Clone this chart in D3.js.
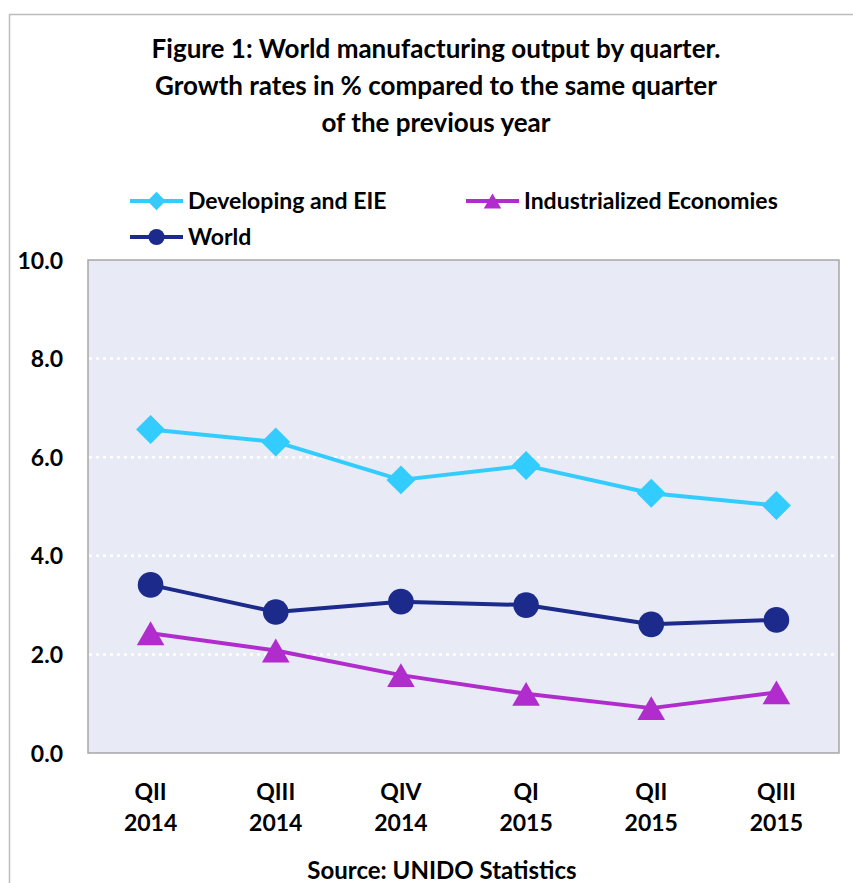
<!DOCTYPE html>
<html>
<head>
<meta charset="utf-8">
<script src="https://cdn.jsdelivr.net/npm/d3@7"></script>
<style>
  body { margin: 0; background: #fff; }
  svg text { font-family: Lato, "Open Sans", sans-serif; font-weight: bold; fill: #000; }
</style>
</head>
<body>
<div id="chart"></div>
<script>
// quarters, two-line tick labels
var quarters = ["QII 2014", "QIII 2014", "QIV 2014", "QI 2015", "QII 2015", "QIII 2015"];
var developing = [6.56, 6.31, 5.54, 5.83, 5.27, 5.02];
var industrialized = [2.43, 2.08, 1.58, 1.20, 0.91, 1.23];
var world = [3.41, 2.86, 3.07, 3.00, 2.61, 2.70];
var y_ticks = [0, 2, 4, 6, 8, 10];
var title_lines = ["Figure 1: World manufacturing output by quarter.",
  "Growth rates in % compared to the same quarter",
  "of the previous year"];

var W = 853, H = 883;
var plot = { left: 88, right: 839, top: 260, bottom: 753 };

var svg = d3.select("#chart").append("svg")
  .attr("width", W).attr("height", H);

// outer frame (only left + top edges are visible in the crop)
svg.append("path")
  .attr("d", "M9.5," + H + "V14.5H" + W)
  .attr("fill", "none").attr("stroke", "#bdbdbd").attr("stroke-width", 1.5);

// title
svg.selectAll(".title").data(title_lines).enter().append("text")
  .attr("class", "title")
  .attr("x", 436).attr("y", function(d, i) { return 58 + i * 37; })
  .attr("text-anchor", "middle")
  .style("font-size", "26px")
  .text(function(d) { return d; });

var x = d3.scalePoint().domain(quarters).range([plot.left, plot.right]).padding(0.5);
var y = d3.scaleLinear().domain([0, 10]).range([plot.bottom, plot.top]);

// plot area
svg.append("rect")
  .attr("x", plot.left).attr("y", plot.top)
  .attr("width", plot.right - plot.left).attr("height", plot.bottom - plot.top)
  .attr("fill", "#e8eaf6").attr("stroke", "#a6a6a6").attr("stroke-width", 1.5);

// gridlines
svg.selectAll(".grid").data(y_ticks.filter(function(d) { return d > 0 && d < 10; }))
  .enter().append("line")
  .attr("x1", plot.left + 1).attr("x2", plot.right - 1)
  .attr("y1", function(d) { return y(d); }).attr("y2", function(d) { return y(d); })
  .attr("stroke", "#fff").attr("stroke-width", 2.5).attr("stroke-dasharray", "3,4");

// y axis labels
var yAxis = d3.axisLeft(y).tickValues(y_ticks).tickFormat(d3.format(".1f")).tickSize(0).tickPadding(0);
var gy = svg.append("g").attr("transform", "translate(63,0)").call(yAxis);
gy.select(".domain").remove();
gy.selectAll("text").style("font-size", "23px").attr("dy", "0.35em")
  .style("font-family", "Lato, sans-serif").style("font-weight", "bold").attr("fill", "#000");

// x axis labels (two lines)
var xl = svg.selectAll(".xl").data(quarters).enter().append("text")
  .attr("class", "xl").attr("text-anchor", "middle")
  .attr("x", function(d) { return x(d); })
  .style("font-size", "23px");
xl.append("tspan").attr("x", function(d) { return x(d); }).attr("y", 800)
  .text(function(d) { return d.split(" ")[0]; });
xl.append("tspan").attr("x", function(d) { return x(d); }).attr("y", 831)
  .text(function(d) { return d.split(" ")[1]; });

// source
svg.append("text").attr("x", 442).attr("y", 879).attr("text-anchor", "middle")
  .style("font-size", "24px").text("Source: UNIDO Statistics");

// rotated square for the diamond marker
var diamond = {
  draw: function(ctx, size) {
    var h = Math.sqrt(size / 2);
    ctx.moveTo(0, -h); ctx.lineTo(h, 0); ctx.lineTo(0, h); ctx.lineTo(-h, 0); ctx.closePath();
  }
};
// triangle centred on its bounding box (like the spreadsheet markers)
var triangle = {
  draw: function(ctx, size) {
    var s = Math.sqrt(size * 4 / Math.sqrt(3)), h = s * Math.sqrt(3) / 2;
    ctx.moveTo(0, -h / 2); ctx.lineTo(s / 2, h / 2); ctx.lineTo(-s / 2, h / 2); ctx.closePath();
  }
};

var series = [
  { name: "Developing and EIE", values: developing, color: "#33ccff", symbol: diamond, size: 420, lx: 130, ly: 201 },
  { name: "Industrialized Economies", values: industrialized, color: "#b02ccc", symbol: triangle, size: 330, lx: 466, ly: 201 },
  { name: "World", values: world, color: "#1b2a8b", symbol: d3.symbolCircle, size: 515, lx: 130, ly: 237 }
];

var line = d3.line()
  .x(function(d, i) { return x(quarters[i]); })
  .y(function(d) { return y(d); });

// draw in order: industrialized, world, developing
[series[1], series[2], series[0]].forEach(function(s) {
  svg.append("path").datum(s.values)
    .attr("d", line).attr("fill", "none")
    .attr("stroke", s.color).attr("stroke-width", 4).attr("stroke-linejoin", "round");
  svg.selectAll(null).data(s.values).enter().append("path")
    .attr("d", d3.symbol().type(s.symbol).size(s.size))
    .attr("transform", function(d, i) {
      return "translate(" + x(quarters[i]) + "," + y(d) + ")";
    })
    .attr("fill", s.color);
});

// legend
series.forEach(function(s) {
  var g = svg.append("g").attr("transform", "translate(" + s.lx + "," + s.ly + ")");
  g.append("line").attr("x1", 0).attr("x2", 53)
    .attr("stroke", s.color).attr("stroke-width", 4);
  g.append("path").attr("d", d3.symbol().type(s.symbol).size(s.size * 0.4))
    .attr("transform", "translate(26.5,0)")
    .attr("fill", s.color);
  g.append("text").attr("x", 58).attr("y", 0).attr("dy", "0.35em")
    .style("font-size", "23px").text(s.name);
});
</script>
</body>
</html>
